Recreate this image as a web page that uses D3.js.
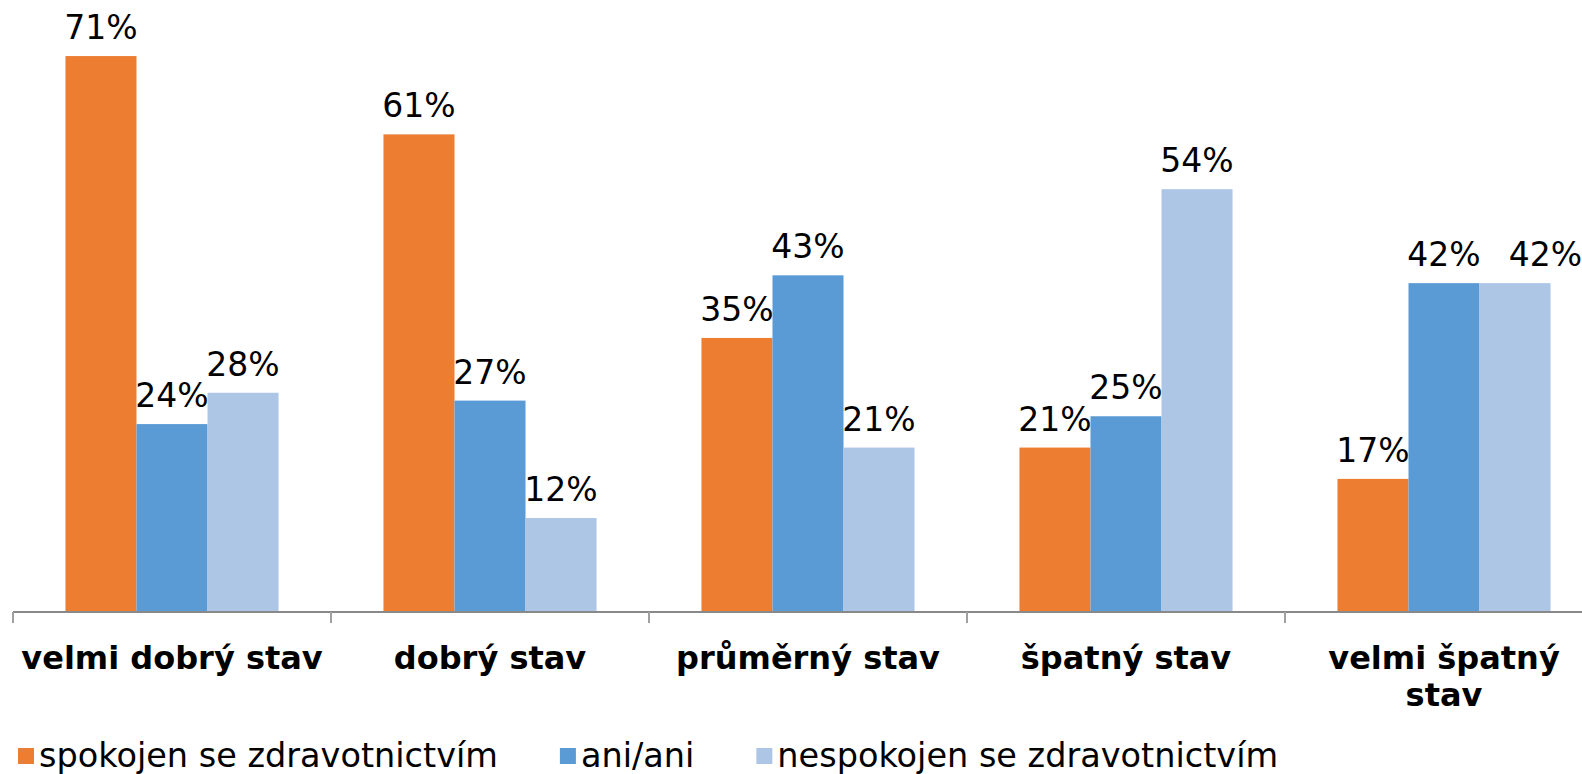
<!DOCTYPE html>
<html>
<head>
<meta charset="utf-8">
<script src="https://cdn.jsdelivr.net/npm/d3@7"></script>
<style>
  html, body { margin: 0; padding: 0; background: #fff; }
  svg { display: block; font-family: "DejaVu Sans", Verdana, sans-serif; }
</style>
</head>
<body>
<div id="chart"></div>
<script>
const categories = ["velmi dobrý stav", "dobrý stav", "průměrný stav", "špatný stav", "velmi špatný stav"];
const seriesNames = ["spokojen se zdravotnictvím", "ani/ani", "nespokojen se zdravotnictvím"];
const spokojen = [71, 61, 35, 21, 17];
const aniAni = [24, 27, 43, 25, 42];
const nespokojen = [28, 12, 21, 54, 42];
const colors = ["#ED7D31", "#5B9BD5", "#ADC6E6"];

const width = 1582;
const height = 774;

const svg = d3.select("#chart")
  .append("svg")
  .attr("width", width)
  .attr("height", height)
  .attr("viewBox", `0 0 ${width} ${height}`);

const allSeries = [spokojen, aniAni, nespokojen];
const rows = categories.map((c, i) => ({
  cat: c,
  vals: seriesNames.map((s, j) => ({ key: s, value: allSeries[j][i], color: colors[j] }))
}));

const baseY = 612;
const bandW = 318;
const x0 = d3.scaleBand()
  .domain(categories)
  .range([13, 13 + bandW * categories.length])
  .padding(0);

// group of bars is 67% of the category width, centred
const gap = bandW * 0.165;
const x1 = d3.scaleBand()
  .domain(seriesNames)
  .range([gap, bandW - gap])
  .padding(0);

const y = d3.scaleLinear()
  .domain([0, 100])
  .range([baseY, baseY - 783]);

// bars
const groups = svg.selectAll(".group")
  .data(rows)
  .join("g")
  .attr("class", "group")
  .attr("transform", (d) => `translate(${x0(d.cat)},0)`);

groups.selectAll("rect")
  .data((d) => d.vals)
  .join("rect")
  .attr("x", (d) => x1(d.key))
  .attr("y", (d) => y(d.value))
  .attr("width", x1.bandwidth())
  .attr("height", (d) => baseY - y(d.value))
  .attr("fill", (d) => d.color);

groups.each(function () {
  // labels above bars, nudged right when they would touch the previous one
  let prev = null;
  d3.select(this).selectAll(".lbl")
    .data((d) => d.vals)
    .join("text")
    .attr("class", "lbl")
    .attr("x", (d) => x1(d.key) + x1.bandwidth() / 2)
    .attr("y", (d) => y(d.value) - 17)
    .attr("text-anchor", "middle")
    .attr("font-size", 33)
    .attr("fill", "#000")
    .text((d) => d.value + "%")
    .each(function (d) {
      const b = this.getBBox();
      if (prev && Math.abs(prev.y - b.y) < b.height * 0.6 && b.x < prev.x + prev.width + 28) {
        const shift = prev.x + prev.width + 28 - b.x;
        d3.select(this).attr("x", +d3.select(this).attr("x") + shift);
        b.x += shift;
      }
      prev = b;
    });
});

// axis
const axis = svg.append("g")
  .attr("transform", `translate(0,${baseY})`);

axis.append("line")
  .attr("x1", x0.range()[0])
  .attr("x2", x0.range()[1])
  .attr("stroke", "#898989")
  .attr("stroke-width", 2);

axis.selectAll(".sep")
  .data(d3.range(categories.length + 1))
  .join("line")
  .attr("class", "sep")
  .attr("x1", (i) => x0.range()[0] + i * x0.step())
  .attr("x2", (i) => x0.range()[0] + i * x0.step())
  .attr("y1", 0)
  .attr("y2", 11)
  .attr("stroke", "#a0a0a0")
  .attr("stroke-width", 2);

// category labels with wrapping
svg.selectAll(".cat")
  .data(categories)
  .join("text")
  .attr("class", "cat")
  .attr("x", (d) => x0(d) + x0.bandwidth() / 2)
  .attr("y", 669)
  .attr("text-anchor", "middle")
  .attr("font-size", 32)
  .attr("font-weight", "bold")
  .attr("fill", "#000")
  .each(function (d) {
    const t = d3.select(this);
    const words = d.split(" ");
    let line = [];
    let tspan = t.append("tspan").attr("x", t.attr("x")).attr("dy", 0);
    words.forEach((w) => {
      line.push(w);
      tspan.text(line.join(" "));
      if (tspan.node().getComputedTextLength() > 310 && line.length > 1) {
        line.pop();
        tspan.text(line.join(" "));
        line = [w];
        tspan = t.append("tspan").attr("x", t.attr("x")).attr("dy", 37).text(w);
      }
    });
  });

// legend
const legend = svg.append("g").attr("transform", "translate(18,748)");
let lx = 0;
seriesNames.forEach((s, i) => {
  const item = legend.append("g").attr("transform", `translate(${lx},0)`);
  item.append("rect")
    .attr("width", 16)
    .attr("height", 16)
    .attr("fill", colors[i]);
  const tx = item.append("text")
    .attr("x", 21)
    .attr("y", 19)
    .attr("font-size", 33.5)
    .attr("fill", "#000")
    .text(s);
  lx += 21 + tx.node().getComputedTextLength() + 62;
});
</script>
</body>
</html>
